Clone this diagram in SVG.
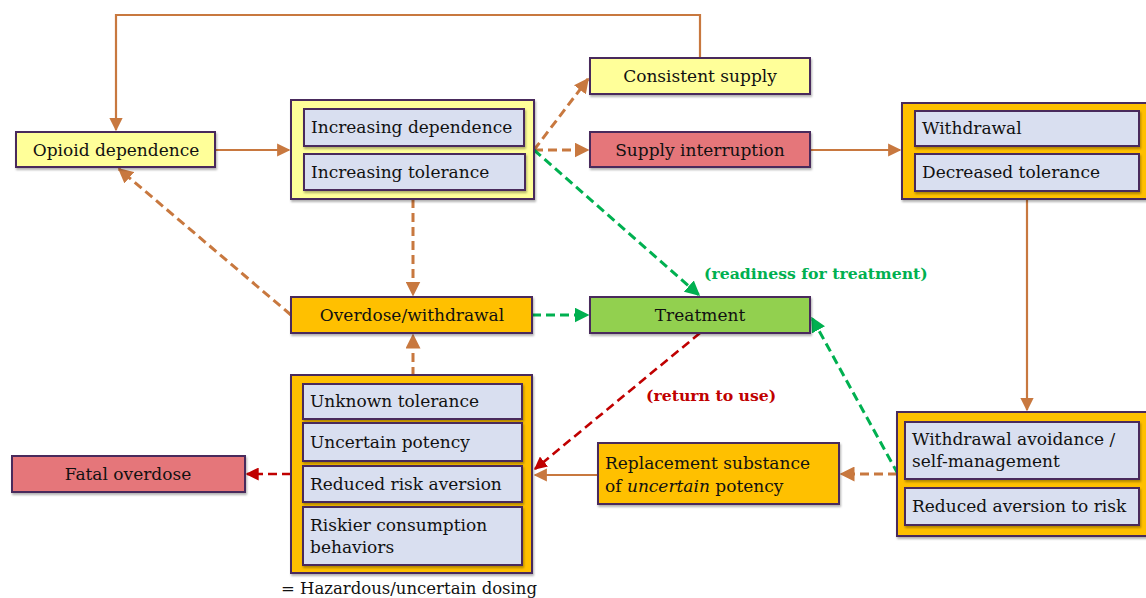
<svg xmlns="http://www.w3.org/2000/svg" width="1146" height="598" viewBox="0 0 1146 598">
<defs>
<filter id="sh" x="-10%" y="-10%" width="120%" height="130%"><feDropShadow dx="1" dy="2" stdDeviation="1.2" flood-color="#000" flood-opacity="0.3"/></filter>
<marker id="ao" viewBox="0 0 10 10" refX="9" refY="5" markerWidth="5" markerHeight="5" orient="auto" markerUnits="strokeWidth"><path d="M0,0 L10,5 L0,10 z" fill="#C8783F"/></marker>
<marker id="aos" viewBox="0 0 10 10" refX="9" refY="5" markerWidth="6" markerHeight="6" orient="auto" markerUnits="strokeWidth"><path d="M0,0 L10,5 L0,10 z" fill="#C8783F"/></marker>
<marker id="ag" viewBox="0 0 10 10" refX="9" refY="5" markerWidth="5" markerHeight="5" orient="auto" markerUnits="strokeWidth"><path d="M0,0 L10,5 L0,10 z" fill="#00B050"/></marker>
<marker id="ar" viewBox="0 0 10 10" refX="9" refY="5" markerWidth="5" markerHeight="5" orient="auto" markerUnits="strokeWidth"><path d="M0,0 L10,5 L0,10 z" fill="#C00000"/></marker>
</defs>
<style>
.box{stroke:#4A2A5C;stroke-width:2;filter:url(#sh)}
.y{fill:#FFFF99}.o{fill:#FFC000}.r{fill:#E5767A}.g{fill:#92D050}.b{fill:#D9DFF0}
text{font-family:"DejaVu Serif","Liberation Serif",serif;font-size:17px;fill:#111}
.c{text-anchor:middle}
.sol{fill:none;stroke:#C8783F;stroke-width:2.2}
.do{fill:none;stroke:#C8783F;stroke-width:3;stroke-dasharray:9 5}
.dg{fill:none;stroke:#00B050;stroke-width:3;stroke-dasharray:9 5}
.dr{fill:none;stroke:#C00000;stroke-width:2.6;stroke-dasharray:9 5}
.lg{font-weight:bold;fill:#00B050;font-size:15.7px}
.lr{font-weight:bold;fill:#C00000;font-size:15.7px}
</style>
<g id="connectors">
<path class="sol" d="M700,58 V15 H116 V130" marker-end="url(#aos)"/>
<path class="sol" d="M215,150 H289" marker-end="url(#aos)"/>
<path class="sol" d="M810,150 H900" marker-end="url(#aos)"/>
<path class="sol" d="M1027,199 V410" marker-end="url(#aos)"/>
<path class="sol" d="M598,475 H535" marker-end="url(#aos)"/>
<path class="do" d="M534,150 L588,79" marker-end="url(#ao)"/>
<path class="do" d="M534,150 H588" marker-end="url(#ao)"/>
<path class="do" d="M413,199 V295" marker-end="url(#ao)"/>
<path class="do" d="M413,376 V335" marker-end="url(#ao)"/>
<path class="do" d="M291,315 L119,169" marker-end="url(#ao)"/>
<path class="do" d="M897,474 H841" marker-end="url(#ao)"/>
<path class="dg" d="M534,150 L699,295" marker-end="url(#ag)"/>
<path class="dg" d="M532,315 H588" marker-end="url(#ag)"/>
<path class="dg" d="M898,474 L812,318" marker-end="url(#ag)"/>
<path class="dr" d="M700,333 L535,469" marker-end="url(#ar)"/>
<path class="dr" d="M291,474 H247" marker-end="url(#ar)"/>
<text class="lg" x="704" y="279">(readiness for treatment)</text>
<text class="lr" x="646" y="401">(return to use)</text>
</g>
<g id="opioid-dependence">
<rect class="box y" x="16" y="132" width="199" height="35"/>
<text class="c" x="116" y="156">Opioid dependence</text>
</g>
<g id="increasing">
<rect class="box y" x="291" y="100" width="243" height="99"/>
<rect class="box b" x="304" y="109" width="220" height="37"/>
<text x="311" y="133">Increasing dependence</text>
<rect class="box b" x="304" y="154" width="221" height="36"/>
<text x="311" y="178">Increasing tolerance</text>
</g>
<g id="consistent-supply">
<rect class="box y" x="590" y="58" width="220" height="36"/>
<text class="c" x="700" y="82">Consistent supply</text>
</g>
<g id="supply-interruption">
<rect class="box r" x="590" y="132" width="220" height="35"/>
<text class="c" x="700" y="156">Supply interruption</text>
</g>
<g id="withdrawal">
<rect class="box o" x="902" y="103" width="250" height="96"/>
<rect class="box b" x="915" y="111" width="224" height="35"/>
<text x="922" y="134">Withdrawal</text>
<rect class="box b" x="915" y="154" width="224" height="37"/>
<text x="922" y="178">Decreased tolerance</text>
</g>
<g id="overdose-withdrawal">
<rect class="box o" x="291" y="297" width="241" height="36"/>
<text class="c" x="412" y="321">Overdose/withdrawal</text>
</g>
<g id="treatment">
<rect class="box g" x="590" y="297" width="220" height="36"/>
<text class="c" x="700" y="321">Treatment</text>
</g>
<g id="hazardous-dosing">
<rect class="box o" x="291" y="375" width="241" height="198"/>
<rect class="box b" x="303" y="384" width="219" height="35"/>
<text x="310" y="407">Unknown tolerance</text>
<rect class="box b" x="303" y="423" width="219" height="38"/>
<text x="310" y="448">Uncertain potency</text>
<rect class="box b" x="303" y="466" width="219" height="36"/>
<text x="310" y="490">Reduced risk aversion</text>
<rect class="box b" x="303" y="507" width="219" height="58"/>
<text x="310" y="531">Riskier consumption</text>
<text x="310" y="553">behaviors</text>
<text x="281" y="594" style="font-size:16.5px">= Hazardous/uncertain dosing</text>
</g>
<g id="fatal-overdose">
<rect class="box r" x="12" y="456" width="233" height="36"/>
<text class="c" x="128" y="480">Fatal overdose</text>
</g>
<g id="replacement-substance">
<rect class="box o" x="598" y="443" width="241" height="61"/>
<text x="605" y="469">Replacement substance</text>
<text x="605" y="492">of <tspan font-style="italic">uncertain</tspan> potency</text>
</g>
<g id="withdrawal-avoidance">
<rect class="box o" x="897" y="412" width="255" height="124"/>
<rect class="box b" x="905" y="422" width="234" height="57"/>
<text x="912" y="445">Withdrawal avoidance /</text>
<text x="912" y="467">self-management</text>
<rect class="box b" x="905" y="488" width="234" height="37"/>
<text x="912" y="512">Reduced aversion to risk</text>
</g>
</svg>
